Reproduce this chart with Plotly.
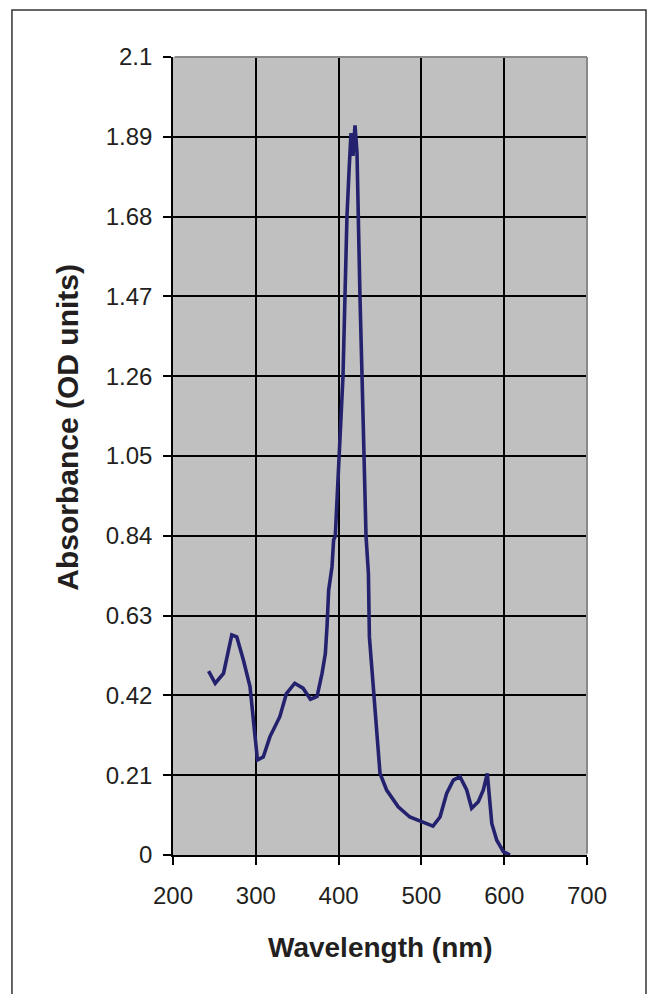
import plotly.graph_objects as go

# Data
wavelength = [243, 251, 261, 271, 277, 285, 293, 297, 302, 309, 317, 329, 337, 347, 357, 366, 374,
              380, 384, 386, 388, 392, 394, 396, 400.5, 405.3, 407.7, 410.1, 412.6, 415, 417.4,
              419.8, 422.2, 423.4, 425.8, 428.3, 430.7, 433.1, 436, 437.2, 440, 442.8, 446, 450,
              458, 472, 486, 500, 514, 522.5, 530.5, 538.6, 546.6, 554.7, 560.7, 568.7, 574.8,
              579.6, 582, 585, 591, 599, 607]
absorbance = [0.484, 0.452, 0.478, 0.579, 0.574, 0.513, 0.443, 0.355, 0.25, 0.258, 0.311, 0.364,
              0.425, 0.452, 0.439, 0.41, 0.417, 0.478, 0.53, 0.601, 0.697, 0.758, 0.829, 0.84,
              1.05, 1.26, 1.47, 1.68, 1.80, 1.90, 1.84, 1.92, 1.85, 1.68, 1.47, 1.26, 1.05, 0.84,
              0.741, 0.574, 0.496, 0.408, 0.32, 0.215, 0.171, 0.127, 0.1, 0.088, 0.076, 0.1, 0.162,
              0.197, 0.206, 0.171, 0.123, 0.14, 0.171, 0.215, 0.153, 0.083, 0.039, 0.009, 0.0]

x_ticks = [200, 300, 400, 500, 600, 700]
y_ticks = [0, 0.21, 0.42, 0.63, 0.84, 1.05, 1.26, 1.47, 1.68, 1.89, 2.1]
y_tick_text = ["0", "0.21", "0.42", "0.63", "0.84", "1.05", "1.26", "1.47", "1.68", "1.89", "2.1"]

FONT = "Liberation Sans, Arial, sans-serif"
TXT = "#231f20"

fig = go.Figure()
fig.add_trace(go.Scatter(x=wavelength, y=absorbance, mode="lines",
                         line=dict(color="#24226e", width=3.6), hoverinfo="skip"))

fig.update_layout(
    width=650, height=994,
    margin=dict(l=173, r=63, t=57, b=139),
    paper_bgcolor="white", plot_bgcolor="#c0c0c0",
    showlegend=False,
    font=dict(family=FONT, size=24, color=TXT),
    xaxis=dict(range=[200, 700], tickvals=x_ticks, ticktext=[str(v) for v in x_ticks],
               showgrid=True, gridcolor="black", gridwidth=1.6,
               showline=True, linecolor="black", linewidth=1.6,
               ticks="outside", ticklen=8, tickwidth=1.6, tickcolor="black",
               ticklabelstandoff=10, zeroline=False,
               tickfont=dict(family=FONT, size=24, color=TXT)),
    yaxis=dict(range=[0, 2.1], tickvals=y_ticks, ticktext=y_tick_text,
               showgrid=True, gridcolor="black", gridwidth=1.6,
               showline=True, linecolor="black", linewidth=1.6,
               ticks="outside", ticklen=8, tickwidth=1.6, tickcolor="black",
               ticklabelstandoff=6, zeroline=False,
               tickfont=dict(family=FONT, size=24, color=TXT)),
    shapes=[
        # grey plot-area border on top and right (covers edge gridlines)
        dict(type="line", xref="x domain", yref="y domain", x0=0.004, x1=1, y0=1, y1=1,
             line=dict(color="#8a8a8a", width=2), layer="above"),
        dict(type="line", xref="x domain", yref="y domain", x0=1, x1=1, y0=0.002, y1=1,
             line=dict(color="#8a8a8a", width=2), layer="above"),
        # outer frame
        dict(type="rect", xref="paper", yref="paper", x0=-0.389, x1=1.1425, y0=-0.2, y1=1.0589,
             line=dict(color="#333333", width=1.5), layer="below"),
    ],
    annotations=[
        dict(text="<b>Wavelength (nm)</b>", xref="paper", yref="paper", x=0.5, y=-0.1165,
             showarrow=False, xanchor="center", yanchor="middle",
             font=dict(family=FONT, size=28, color=TXT)),
        dict(text="<b>Absorbance (OD units)</b>", xref="paper", yref="paper", x=-0.255, y=0.536,
             showarrow=False, xanchor="center", yanchor="middle", textangle=-90,
             font=dict(family=FONT, size=30, color=TXT)),
    ],
)

fig.write_html("out.html")
